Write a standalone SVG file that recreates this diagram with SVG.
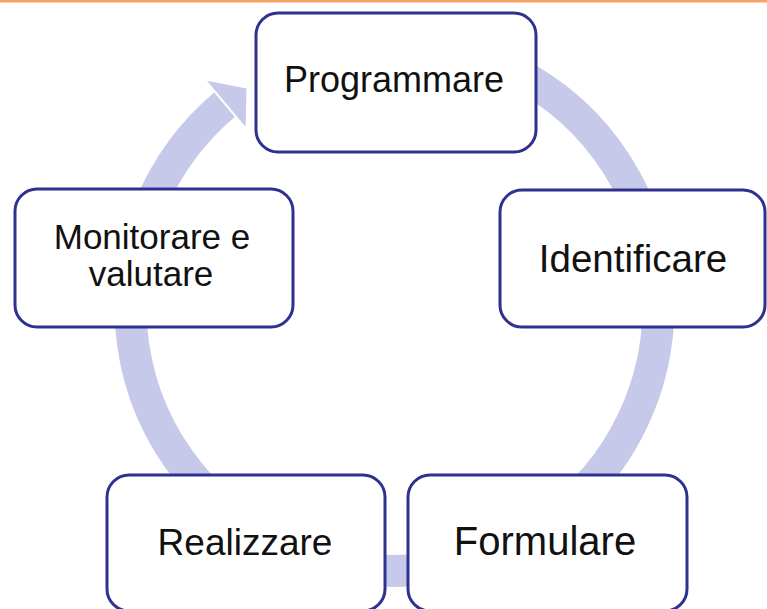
<svg xmlns="http://www.w3.org/2000/svg" width="767" height="609" viewBox="0 0 767 609">
<style>
.box{fill:#ffffff;stroke:#2f3190;stroke-width:3}
.lbl{font-family:"Liberation Sans",Arial,sans-serif;fill:#111111;text-anchor:middle}
.ring{fill:none;stroke:#c7c9ea;stroke-width:32}
.head{fill:#c7c9ea}
</style>
<rect width="767" height="609" fill="#ffffff"/>
<rect x="0" y="0" width="767" height="2.5" fill="#f5a466"/>
<g id="connectors">
<path class="ring" d="M272.1 72.9 A264 264 0 1 1 224.5 104.8"/>
<polygon class="head" points="207,80.8 246.5,88.4 245.6,126.8"/>
</g>
<g id="node-programmare">
<rect class="box" x="256" y="13" width="280" height="139" rx="22"/>
<text class="lbl" x="394" y="92" font-size="36">Programmare</text>
</g>
<g id="node-identificare">
<rect class="box" x="500" y="190" width="265" height="137" rx="22"/>
<text class="lbl" x="633" y="272" font-size="38.5">Identificare</text>
</g>
<g id="node-formulare">
<rect class="box" x="408" y="475" width="279" height="136" rx="22"/>
<text class="lbl" x="545" y="555" font-size="40">Formulare</text>
</g>
<g id="node-realizzare">
<rect class="box" x="107" y="475" width="278" height="136" rx="22"/>
<text class="lbl" x="245" y="555" font-size="37">Realizzare</text>
</g>
<g id="node-monitorare">
<rect class="box" x="15" y="189" width="278" height="138" rx="22"/>
<text class="lbl" x="152" y="249" font-size="35">Monitorare e</text>
<text class="lbl" x="151" y="286" font-size="35">valutare</text>
</g>
</svg>
